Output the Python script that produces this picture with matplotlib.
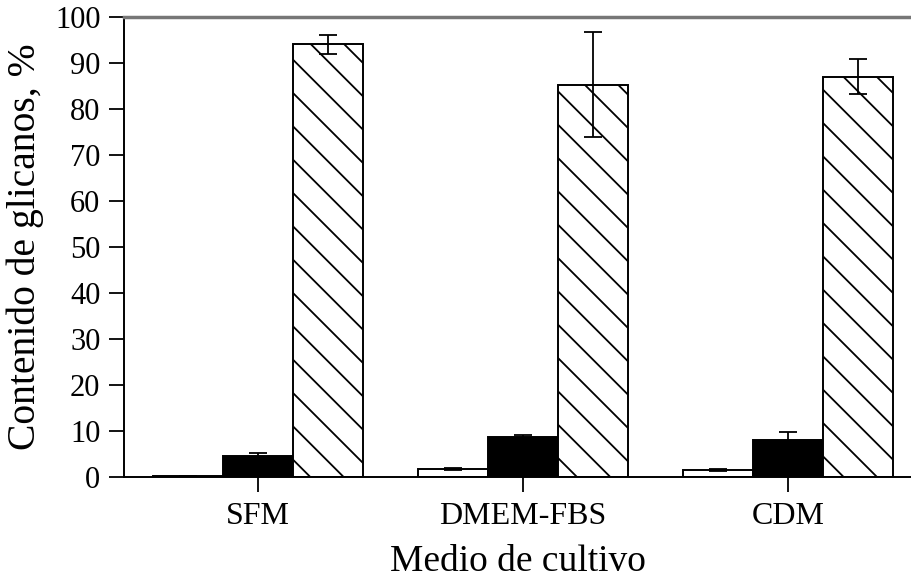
import numpy as np
import matplotlib
matplotlib.use('Agg')
import matplotlib.pyplot as plt

plt.rcParams['font.family'] = ['Liberation Serif', 'DejaVu Serif']
plt.rcParams['hatch.linewidth'] = 1.3

# Data
media = ['SFM', 'DMEM-FBS', 'CDM']
white_vals = [0.3, 1.7, 1.5]
white_err = [0.0, 0.2, 0.3]
black_vals = [4.6, 8.7, 8.0]
black_err = [0.6, 0.4, 1.8]
hatch_vals = [94.1, 85.3, 87.0]
hatch_err = [2.1, 11.4, 3.8]
yticks = [0, 10, 20, 30, 40, 50, 60, 70, 80, 90, 100]

fig = plt.figure(figsize=(9.11, 5.83), dpi=100)
ax = fig.add_axes([0.1361, 0.1818, 0.8639, 0.789])

x = np.arange(len(media))
w = 0.264
err_kw = dict(ecolor='black', elinewidth=1.3, capsize=6.5, capthick=1.3)

ax.bar(x - w, white_vals, w, yerr=white_err, color='white', edgecolor='black',
       linewidth=1.4, error_kw=err_kw, zorder=2)
ax.bar(x, black_vals, w, yerr=black_err, color='black', edgecolor='black',
       linewidth=1.4, error_kw=err_kw, zorder=2)
ax.bar(x + w, hatch_vals, w, yerr=hatch_err, color='white', edgecolor='black',
       hatch='\\', linewidth=1.4, error_kw=err_kw, zorder=2)

ax.set_xlim(-0.506, 2.464)
ax.set_ylim(0, 100)
ax.set_yticks(yticks)
ax.set_xticks(x)
ax.set_xticklabels(media)

ax.spines['right'].set_visible(False)
ax.spines['top'].set_color('#777777')
ax.spines['top'].set_linewidth(2.5)
ax.spines['left'].set_linewidth(1.4)
ax.spines['bottom'].set_linewidth(1.4)

ax.tick_params(axis='y', length=11, width=1.3, pad=6, labelsize=22)
ax.tick_params(axis='x', length=11, width=1.3, pad=7, labelsize=23)

ax.set_ylabel('Contenido de glicanos, %', fontsize=28.5, labelpad=8)
ax.set_xlabel('Medio de cultivo', fontsize=27, labelpad=10)

fig.savefig('out.png', dpi=100)
